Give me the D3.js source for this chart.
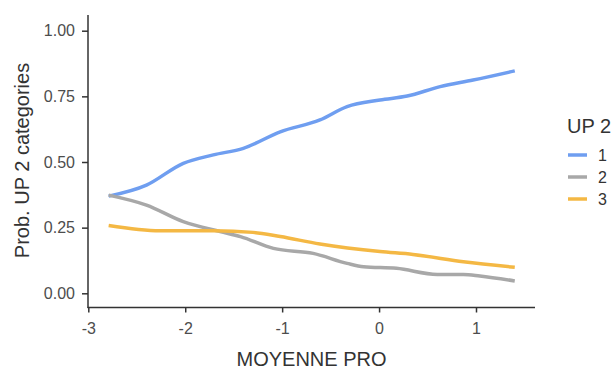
<!DOCTYPE html>
<html><head><meta charset="utf-8">
<script src="https://cdn.jsdelivr.net/npm/d3@7"></script>
<style>body{margin:0;background:#fff}svg{display:block}text{font-family:"Liberation Sans",Arial,sans-serif}</style>
</head><body><svg id="c" width="613" height="369"></svg>
<script>
const seriesNames = ["1","2","3"];
const colors = ["#6f9ef0","#a8a8a8","#f4b844"];
const xs1 = [-2.79,-2.40,-2.02,-1.71,-1.40,-1.02,-0.61,-0.33,0.01,0.29,0.63,0.97,1.40];
const ys1 = [0.370,0.412,0.495,0.527,0.552,0.615,0.660,0.711,0.736,0.751,0.787,0.812,0.847];
const xs2 = [-2.79,-2.40,-2.02,-1.64,-1.43,-1.09,-0.68,-0.33,-0.16,0.18,0.60,0.87,1.04,1.40];
const ys2 = [0.374,0.336,0.273,0.235,0.216,0.171,0.152,0.114,0.101,0.095,0.072,0.072,0.066,0.047];
const xs3 = [-2.79,-2.26,-1.71,-1.30,-1.02,-0.61,0.01,0.35,0.87,1.40];
const ys3 = [0.258,0.238,0.238,0.232,0.216,0.188,0.159,0.148,0.120,0.099];
const xTicks = [-3,-2,-1,0,1];
const yTicks = [0,0.25,0.5,0.75,1];
const xTitle = "MOYENNE PRO", yTitle = "Prob. UP 2 categories", legendTitle = "UP 2";

const svg = d3.select("#c");
const x = d3.scaleLinear().domain([-3,1]).range([88.3,476]);
const y = d3.scaleLinear().domain([0,1]).range([293.3,30.7]);
const axCol = "#333";

// axes
const gx = svg.append("g").attr("transform","translate(0,307.5)")
  .call(d3.axisBottom(x).tickValues(xTicks).tickFormat(d=>String(d)).tickSize(5).tickPadding(10).tickSizeOuter(0));
gx.select(".domain").attr("d","M87.5,0H535");
const gy = svg.append("g").attr("transform","translate(88,0)")
  .call(d3.axisLeft(y).tickValues(yTicks).tickFormat(d3.format(".2f")).tickSize(6).tickPadding(7).tickSizeOuter(0));
gy.select(".domain").attr("d","M0,15V308");
[gx,gy].forEach(g=>{
  g.selectAll(".domain").attr("stroke",axCol).attr("stroke-width",1.5);
  g.selectAll(".tick line").attr("stroke",axCol).attr("stroke-width",1.5);
  g.selectAll(".tick text").attr("fill","#4d4d4d").style("font-size","16px");
});

const line = d3.line().x(d=>x(d[0])).y(d=>y(d[1])).curve(d3.curveMonotoneX);
const data = [d3.zip(xs1,ys1), d3.zip(xs2,ys2), d3.zip(xs3,ys3)];
data.forEach((d,i)=>{
  svg.append("path").attr("d",line(d)).attr("fill","none").attr("stroke",colors[i])
    .attr("stroke-width",3.5).attr("stroke-linecap","butt");
});
svg.append("text").attr("x",311.5).attr("y",366).attr("text-anchor","middle")
  .attr("fill","#333").style("font-size","20px").text(xTitle);
svg.append("text").attr("transform","translate(29,160.5) rotate(-90)").attr("text-anchor","middle")
  .attr("fill","#333").style("font-size","20px").text(yTitle);

// legend
svg.append("text").attr("x",567).attr("y",133).attr("fill","#333").style("font-size","20px").text(legendTitle);
seriesNames.forEach((s,i)=>{
  const yy = 155 + i*22;
  svg.append("line").attr("x1",568).attr("x2",587).attr("y1",yy).attr("y2",yy)
    .attr("stroke",colors[i]).attr("stroke-width",3.5);
  svg.append("text").attr("x",598).attr("y",yy+6).attr("fill","#333").style("font-size","16px").text(s);
});
</script></body></html>
